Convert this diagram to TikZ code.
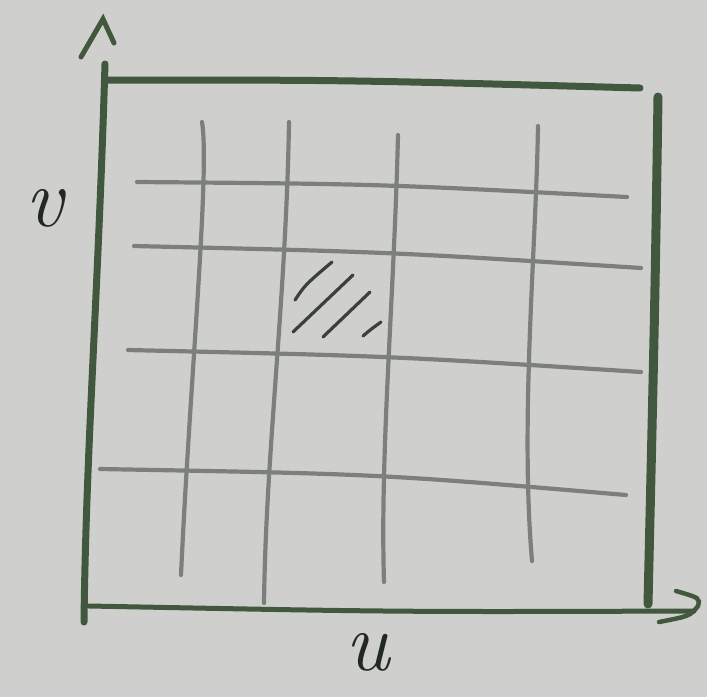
\documentclass[tikz,border=0pt]{standalone}
\begin{document}
\begin{tikzpicture}[x=1pt,y=-1pt,
  frame/.style={draw=framegreen,line width=#1,line cap=round},
  frame/.default=7pt,
  gridline/.style={draw=gridgray,line width=4.2pt,line cap=round},
  hatchline/.style={draw=hatchdark,line width=3.2pt,line cap=round},
  axislabel/.style={text=labeldark,font=\fontsize{84}{84}\selectfont\itshape,inner sep=0pt}]
\definecolor{paper}{RGB}{207,207,205}
\definecolor{framegreen}{RGB}{66,88,62}
\definecolor{gridgray}{RGB}{124,128,124}
\definecolor{hatchdark}{RGB}{58,64,58}
\definecolor{labeldark}{RGB}{34,40,34}
\useasboundingbox (0,0) rectangle (707,697);
\fill[paper] (0,0) rectangle (707,697);
% grid lines
\draw[gridline] (137,182) .. controls (380,184) .. (627,197);
\draw[gridline] (134,246) .. controls (390,252) .. (641,268);
\draw[gridline] (128,350) .. controls (390,356) .. (641,372);
\draw[gridline] (100,469) .. controls (380,474) .. (626,495);
\draw[gridline] (202,122) .. controls (210,170) and (190,380) .. (181,575);
\draw[gridline] (289,122) .. controls (286,300) and (266,450) .. (264,603);
\draw[gridline] (398,135) .. controls (394,300) and (380,450) .. (384,582);
\draw[gridline] (538,126) .. controls (536,250) and (520,420) .. (532,561);
% hatching
\draw[hatchline] (295,300) .. controls (305,285) .. (332,262);
\draw[hatchline] (293,332) -- (353,275);
\draw[hatchline] (323,337) -- (370,292);
\draw[hatchline] (363,336) .. controls (370,330) .. (381,322);
% frame
\draw[frame=7pt] (105,64) .. controls (98,300) and (86,450) .. (84,622);
\draw[frame=7pt] (108,80) .. controls (350,80) .. (640,88);
\draw[frame=9pt] (658,97) .. controls (655,300) .. (648,604);
\draw[frame=5pt] (89,606) .. controls (400,612) .. (694,611);
% arrowheads
\coordinate (vtip) at (103,19);
\coordinate (utip) at (698,606);
\draw[frame=5pt] (81,57) -- (vtip) -- (114,43);
\draw[frame=4.5pt] (676,591) .. controls (700,598) .. (utip) .. controls (690,616) .. (659,622);
% labels
\node[axislabel] (vlabel) at (44,208) {v};
\node[axislabel] (ulabel) at (368,652) {u};
\end{tikzpicture}
\end{document}
